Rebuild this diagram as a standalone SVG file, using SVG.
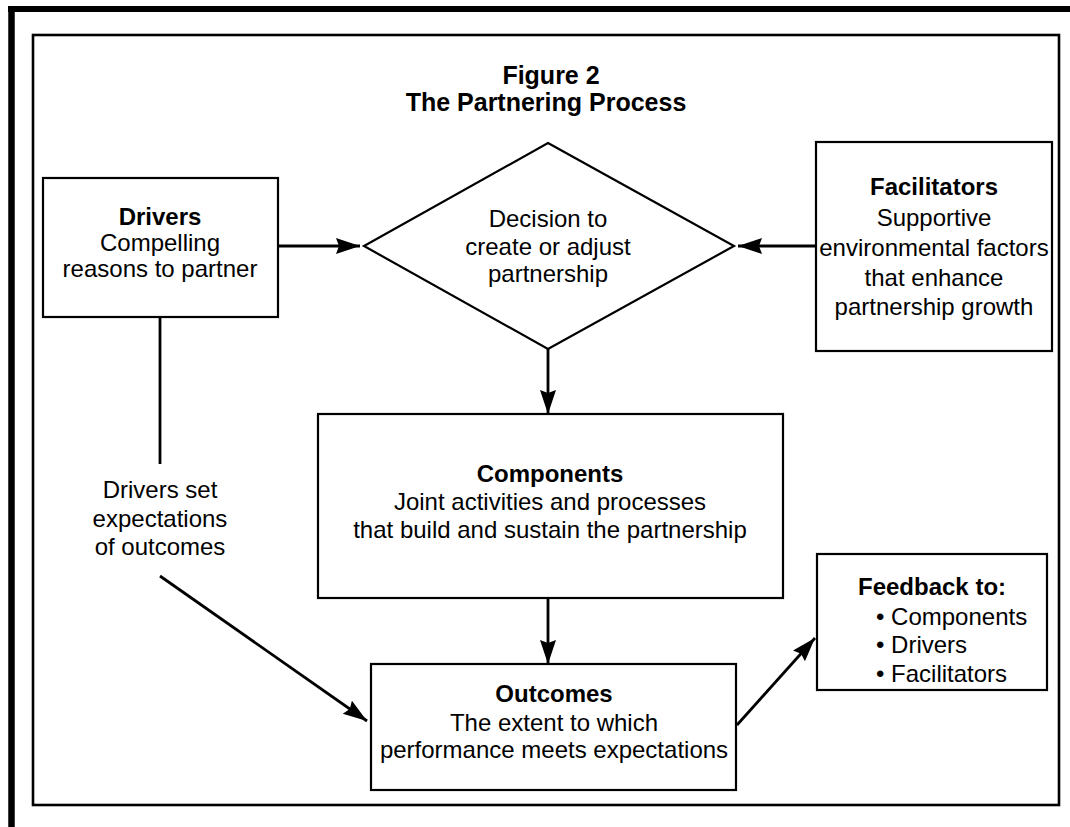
<svg xmlns="http://www.w3.org/2000/svg" width="1070" height="827" viewBox="0 0 1070 827">
<style>
.box{fill:#fff;stroke:#000;stroke-width:2.2}
.conn{fill:none;stroke:#000;stroke-width:2.8}
text{font-family:"Liberation Sans",Arial,sans-serif;font-size:24px;fill:#000}
.c{text-anchor:middle}
.b{font-weight:bold}
.t{font-size:25px}
</style>
<defs>
<marker id="ah" markerUnits="userSpaceOnUse" markerWidth="26" markerHeight="18" refX="24" refY="8" orient="auto">
<path d="M0,0 L24,8 L0,16 L3,8 z" fill="#000"/>
</marker>
</defs>
<rect width="1070" height="827" fill="#fff"/>
<g id="frame">
<line x1="8" y1="9" x2="1070" y2="9" stroke="#000" stroke-width="6"/>
<line x1="11.5" y1="6" x2="11.5" y2="827" stroke="#000" stroke-width="6.5"/>
<rect x="33" y="35" width="1026" height="770" fill="none" stroke="#000" stroke-width="2.6"/>
</g>
<g id="title">
<text class="c b t" x="551" y="84">Figure 2</text>
<text class="c b t" x="546" y="111">The Partnering Process</text>
</g>
<g id="connectors">
<line class="conn" x1="278" y1="246" x2="360" y2="246" marker-end="url(#ah)"/>
<line class="conn" x1="816" y1="246" x2="738" y2="246" marker-end="url(#ah)"/>
<line class="conn" x1="548" y1="349" x2="548" y2="414" marker-end="url(#ah)"/>
<line class="conn" x1="548" y1="598" x2="548" y2="664" marker-end="url(#ah)"/>
<line class="conn" x1="160" y1="317" x2="160" y2="464"/>
<line class="conn" x1="160" y1="576" x2="367" y2="721" marker-end="url(#ah)"/>
<line class="conn" x1="737" y1="725" x2="815" y2="638" marker-end="url(#ah)"/>
<g id="label-drivers-set">
<text class="c" x="160" y="498">Drivers set</text>
<text class="c" x="160" y="527">expectations</text>
<text class="c" x="160" y="555">of outcomes</text>
</g>
</g>
<g id="drivers">
<rect class="box" x="43" y="178" width="235" height="139"/>
<text class="c b" x="160" y="225">Drivers</text>
<text class="c" x="160" y="251">Compelling</text>
<text class="c" x="160" y="277">reasons to partner</text>
</g>
<g id="decision">
<polygon class="box" points="548,143 734,246 548,349 364,246"/>
<text class="c" x="548" y="227">Decision to</text>
<text class="c" x="548" y="255">create or adjust</text>
<text class="c" x="548" y="282">partnership</text>
</g>
<g id="facilitators">
<rect class="box" x="816" y="142" width="236" height="209"/>
<text class="c b" x="934" y="195">Facilitators</text>
<text class="c" x="934" y="226">Supportive</text>
<text class="c" x="934" y="256">environmental factors</text>
<text class="c" x="934" y="286">that enhance</text>
<text class="c" x="934" y="315">partnership growth</text>
</g>
<g id="components">
<rect class="box" x="318" y="414" width="465" height="184"/>
<text class="c b" x="550" y="482">Components</text>
<text class="c" x="550" y="510">Joint activities and processes</text>
<text class="c" x="550" y="538">that build and sustain the partnership</text>
</g>
<g id="outcomes">
<rect class="box" x="371" y="664" width="365" height="126"/>
<text class="c b" x="554" y="702">Outcomes</text>
<text class="c" x="554" y="731">The extent to which</text>
<text class="c" x="554" y="758">performance meets expectations</text>
</g>
<g id="feedback">
<rect class="box" x="817" y="554" width="230" height="136"/>
<text class="b" x="858" y="595">Feedback to:</text>
<text x="876" y="625">• Components</text>
<text x="876" y="653">• Drivers</text>
<text x="876" y="682">• Facilitators</text>
</g>
</svg>
